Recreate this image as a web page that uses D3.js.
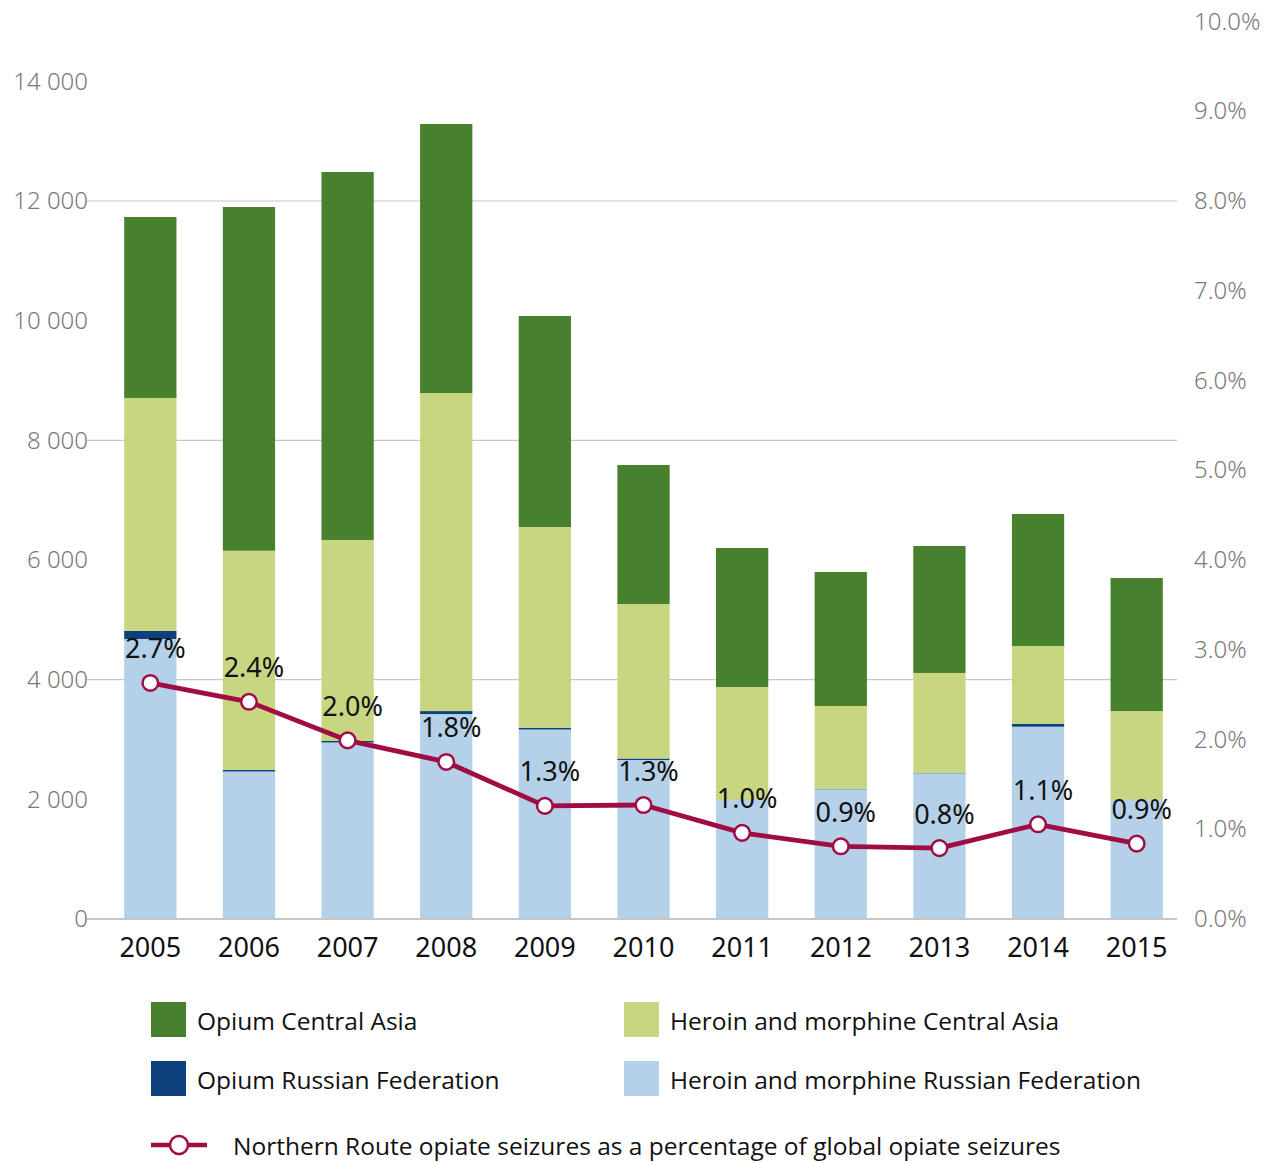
<!DOCTYPE html>
<html>
<head>
<meta charset="utf-8">
<script src="https://cdn.jsdelivr.net/npm/d3@7"></script>
<style>
  html, body { margin: 0; padding: 0; background: #fff; }
  svg { display: block; }
</style>
</head>
<body>
<svg id="chart" width="1274" height="1162"></svg>
<script>
const years = ["2005","2006","2007","2008","2009","2010","2011","2012","2013","2014","2015"];
const heroinRF  = [4680, 2465, 2950, 3425, 3167, 2657, 1989, 2168, 2435, 3214, 1989];
const opiumRF   = [ 134,   25,   25,   50,   30,   25,    5,    5,    5,   45,    5];
const heroinCA  = [3894, 3665, 3360, 5315, 3355, 2583, 1884, 1387, 1672, 1304, 1482];
const opiumCA   = [3025, 5745, 6150, 4497, 3526, 2323, 2323, 2240, 2122, 2206, 2223];
const pctValues = [2.63, 2.42, 1.99, 1.75, 1.26, 1.27, 0.96, 0.81, 0.79, 1.055, 0.84];
const pctLabels = ["2.7%","2.4%","2.0%","1.8%","1.3%","1.3%","1.0%","0.9%","0.8%","1.1%","0.9%"];
const leftTicks  = [0, 2000, 4000, 6000, 8000, 10000, 12000, 14000];
const gridTicks  = [4000, 8000, 12000];
const rightTicks = [0, 1, 2, 3, 4, 5, 6, 7, 8, 9, 10];

const seriesKeys = ["heroinRF", "opiumRF", "heroinCA", "opiumCA"];
const seriesColors = { heroinRF: "#B4D1E9", opiumRF: "#0E407C", heroinCA: "#C8D682", opiumCA: "#48812D" };
const lineColor = "#A00D44";

const rows = years.map((y, i) => ({ year: y, heroinRF: heroinRF[i], opiumRF: opiumRF[i], heroinCA: heroinCA[i], opiumCA: opiumCA[i] }));

const svg = d3.select("#chart");
const plotTop = 21.5, plotBottom = 919, gridLeft = 87, gridRight = 1177;

const x = d3.scaleBand().domain(years).range([101, 1186]).paddingInner(0.47).paddingOuter(0.235);
const yL = d3.scaleLinear().domain([0, 15000]).range([plotBottom, plotTop]);
const yR = d3.scaleLinear().domain([0, 10]).range([plotBottom, plotTop]);

const axisFont = "'Noto Sans', 'DejaVu Sans', sans-serif";

// gridlines
svg.append("g").selectAll("line").data(gridTicks).join("line")
  .attr("x1", gridLeft).attr("x2", gridRight)
  .attr("y1", d => yL(d)).attr("y2", d => yL(d))
  .attr("stroke", "#C6C6C6").attr("stroke-width", 1.2);

// stacked bars
const stack = d3.stack().keys(seriesKeys)(rows);
svg.append("g").selectAll("g").data(stack).join("g")
  .attr("fill", d => seriesColors[d.key])
  .selectAll("rect").data(d => d).join("rect")
  .attr("x", d => x(d.data.year))
  .attr("width", x.bandwidth())
  .attr("y", d => yL(d[1]))
  .attr("height", d => yL(d[0]) - yL(d[1]));

// baseline
svg.append("line").attr("x1", gridLeft).attr("x2", gridRight)
  .attr("y1", yL(0)).attr("y2", yL(0))
  .attr("stroke", "#C6C6C6").attr("stroke-width", 1.8);

// left axis
const leftAxis = d3.axisLeft(yL).tickValues(leftTicks).tickSize(0).tickPadding(0)
  .tickFormat(d => d3.format(",")(d).replace(/,/g, " "));
const gL = svg.append("g").attr("transform", "translate(88,0)").call(leftAxis);
gL.select(".domain").remove();
gL.selectAll("text").attr("font-family", axisFont).attr("font-size", 24).attr("fill", "#7A7A7A")
  .attr("font-weight", 300).style("white-space", "pre");

// right axis
const rightAxis = d3.axisRight(yR).tickValues(rightTicks).tickSize(0).tickPadding(0)
  .tickFormat(d => d3.format(".1f")(d) + "%");
const gR = svg.append("g").attr("transform", "translate(1194,0)").call(rightAxis);
gR.select(".domain").remove();
gR.selectAll("text").attr("font-family", axisFont).attr("font-size", 24).attr("fill", "#7A7A7A")
  .attr("font-weight", 300);

// bottom axis
const bottomAxis = d3.axisBottom(x).tickSize(0).tickPadding(0);
const gB = svg.append("g").attr("transform", `translate(0,${plotBottom})`).call(bottomAxis);
gB.select(".domain").remove();
gB.selectAll("text").attr("font-family", axisFont).attr("font-size", 27).attr("fill", "#111")
  .attr("dy", "0").attr("y", 38);

// line
const cx = (i) => x(years[i]) + x.bandwidth() / 2;
const line = d3.line().x((d, i) => cx(i)).y(d => yR(d));
svg.append("path").datum(pctValues).attr("d", line)
  .attr("fill", "none").attr("stroke", lineColor).attr("stroke-width", 4.8).attr("stroke-linejoin", "round");

// data labels
svg.append("g").selectAll("text").data(pctLabels).join("text")
  .attr("x", (d, i) => cx(i) + 5)
  .attr("y", (d, i) => yR(pctValues[i]) - 35)
  .attr("text-anchor", "middle").attr("dominant-baseline", "central")
  .attr("font-family", axisFont).attr("font-size", 27).attr("fill", "#111")
  .text(d => d);

// markers
svg.append("g").selectAll("circle").data(pctValues).join("circle")
  .attr("cx", (d, i) => cx(i)).attr("cy", d => yR(d)).attr("r", 7.8)
  .attr("fill", "#fff").attr("stroke", lineColor).attr("stroke-width", 2.5);

// legend
const legendFont = "'Open Sans', 'Noto Sans', sans-serif";
const legendItems = [
  { key: "opiumCA", label: "Opium Central Asia", x: 151, y: 1002 },
  { key: "heroinCA", label: "Heroin and morphine Central Asia", x: 624, y: 1002 },
  { key: "opiumRF", label: "Opium Russian Federation", x: 151, y: 1061 },
  { key: "heroinRF", label: "Heroin and morphine Russian Federation", x: 624, y: 1061 }
];
const lg = svg.append("g");
legendItems.forEach(it => {
  lg.append("rect").attr("x", it.x).attr("y", it.y).attr("width", 35).attr("height", 35).attr("fill", seriesColors[it.key]);
  lg.append("text").attr("x", it.x + 46).attr("y", it.y + 18.5).attr("dominant-baseline", "central")
    .attr("font-family", legendFont).attr("font-size", 24.5).attr("fill", "#111")
    .text(it.label);
});
lg.append("line").attr("x1", 151).attr("x2", 207).attr("y1", 1145).attr("y2", 1145)
  .attr("stroke", lineColor).attr("stroke-width", 4.5);
lg.append("circle").attr("cx", 179).attr("cy", 1145).attr("r", 9)
  .attr("fill", "#fff").attr("stroke", lineColor).attr("stroke-width", 2.5);
lg.append("text").attr("x", 233).attr("y", 1145).attr("dominant-baseline", "central")
  .attr("font-family", legendFont).attr("font-size", 24.5).attr("fill", "#111")
  .text("Northern Route opiate seizures as a percentage of global opiate seizures");
</script>
</body>
</html>
